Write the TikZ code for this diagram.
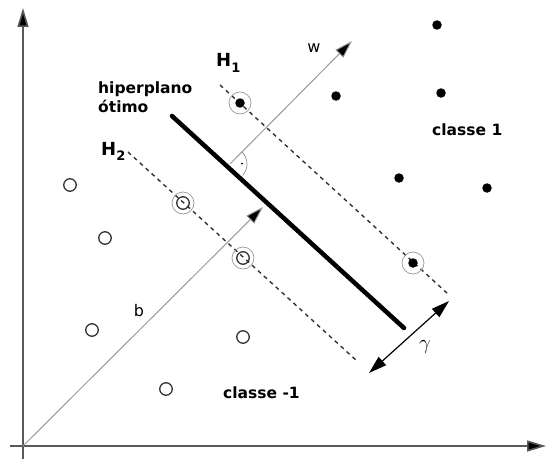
\documentclass[tikz,border=0pt]{standalone}
\usepackage{fontspec}
\setsansfont{DejaVu Sans}
\usetikzlibrary{arrows.meta}
\begin{document}
\begin{tikzpicture}[x=1pt,y=1pt,
  axis/.style={draw=black!65, line width=1.6pt, -{Triangle[length=19pt,width=11pt,fill=black]}},
  vec/.style={draw=black!40, line width=1pt, -{Triangle[length=18pt,width=11pt,fill=black]}},
  hp/.style={line width=4.5pt, line cap=round},
  marg/.style={dash pattern=on 4pt off 4pt, line width=1.4pt, draw=black!80},
  gam/.style={line width=1.2pt, {Triangle[length=18pt,width=11pt]}-{Triangle[length=18pt,width=11pt]}},
  posdot/.style={circle, fill=black, inner sep=0pt, minimum size=9.5pt},
  negdot/.style={circle, draw=black!80, line width=1.3pt, inner sep=0pt, minimum size=12.5pt},
  ring/.style={circle, draw=black!40, line width=0.7pt, inner sep=0pt, minimum size=22pt},
  lbl/.style={font=\sffamily\bfseries\fontsize{15.5}{18}\selectfont, inner sep=0pt, anchor=base west},
  hlbl/.style={font=\sffamily\bfseries\fontsize{18}{20}\selectfont, inner sep=0pt, anchor=base west},
  vlbl/.style={font=\sffamily\fontsize{16}{18}\selectfont, inner sep=0pt},
]
\useasboundingbox (0,0) rectangle (546,459);

% coordinates
\coordinate (O) at (23,13);
\coordinate (Ytop) at (23,451);
\coordinate (Ybot) at (23,0);
\coordinate (Xl) at (10,13);
\coordinate (Xr) at (546,13);
\coordinate (B) at (263,252);
\coordinate (P) at (230,295);
\coordinate (W) at (352,418);
\coordinate (HPa) at (172,343);
\coordinate (HPb) at (404,131);
\coordinate (H1a) at (220,374);
\coordinate (H1b) at (448,165);
\coordinate (H2a) at (128,307);
\coordinate (H2b) at (357,98);
\coordinate (Ga) at (369,86);
\coordinate (Gb) at (449,158);

% axes
\draw[draw=black!65, line width=1.6pt] (Ybot) -- (O);
\draw[axis] (O) -- (Ytop);
\draw[axis] (Xl) -- (Xr);

% vectors
\draw[vec] (O) -- (B);
\draw[vec] (P) -- (W);

% right angle mark
\draw[draw=black!45, line width=0.7pt] (P) ++(45:17) arc[start angle=45, end angle=-42.4, radius=17];
\fill (P) ++(1.5:12) circle (1pt);

% margins and hyperplane
\draw[marg] (H1a) -- (H1b);
\draw[marg] (H2a) -- (H2b);
\draw[hp] (HPa) -- (HPb);
\draw[gam] (Ga) -- (Gb);

% class 1 points
\node[posdot] (p1) at (437,434) {};
\node[posdot] (p2) at (336,363) {};
\node[posdot] (p3) at (441,366) {};
\node[posdot] (p4) at (399,281) {};
\node[posdot] (p5) at (487,271) {};
\node[ring] (s1r) at (240,356) {};
\node[posdot] (s1) at (240,356) {};
\node[ring] (s2r) at (413,196) {};
\node[posdot] (s2) at (413,196) {};

% class -1 points
\node[negdot] (n1) at (70,274) {};
\node[negdot] (n2) at (105,221) {};
\node[negdot] (n3) at (92,129) {};
\node[negdot] (n4) at (243,122) {};
\node[negdot] (n5) at (166,70) {};
\node[ring] (s3r) at (183,256) {};
\node[negdot] (s3) at (183,256) {};
\node[ring] (s4r) at (243,201) {};
\node[negdot] (s4) at (243,201) {};

% labels
\node[lbl] (hip1) at (98,366) {hiperplano};
\node[lbl] (hip2) at (98,347) {ótimo};
\node[lbl] (c1) at (432,324) {classe 1};
\node[lbl] (c2) at (223,61) {classe -1};
\node[hlbl] (h1) at (216,392) {H\raisebox{-5pt}{\fontsize{13}{13}\selectfont 1}};
\node[hlbl] (h2) at (101,304) {H\raisebox{-5pt}{\fontsize{13}{13}\selectfont 2}};
\node[vlbl] (wl) at (314,411) {w};
\node[vlbl] (bl) at (139,148) {b};
\node[inner sep=0pt, font=\fontsize{20}{20}\selectfont] (gl) at (425,112) {$\gamma$};
\end{tikzpicture}
\end{document}
